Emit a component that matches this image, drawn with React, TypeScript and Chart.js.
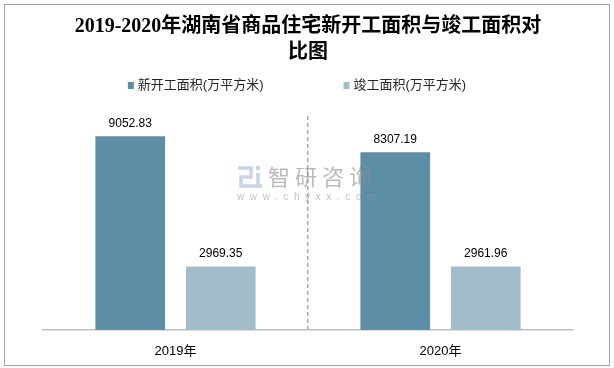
import React, { useEffect, useRef } from "react";
import { Chart, registerables } from "chart.js";

Chart.register(...registerables);

const categories = ["2019年", "2020年"];
const seriesNames = ["新开工面积(万平方米)", "竣工面积(万平方米)"];
const newStartArea = [9052.83, 8307.19];
const completedArea = [2969.35, 2961.96];
const titleLines = ["2019-2020年湖南省商品住宅新开工面积与竣工面积对", "比图"];
const watermarkName = "智研咨询";
const watermarkUrl = "www.chyxx.com";

const DARK = "#5c8fa6";
const LIGHT = "#a1bdca";
const SANS = "'Liberation Sans', 'Noto Sans CJK SC', sans-serif";

const valueLabels = {
  id: "valueLabels",
  afterDatasetsDraw(chart: any) {
    const ctx = chart.ctx;
    ctx.save();
    ctx.font = `12px ${SANS}`;
    ctx.fillStyle = "#000";
    ctx.textAlign = "center";
    ctx.textBaseline = "middle";
    chart.data.datasets.forEach((ds: any, di: number) => {
      const meta = chart.getDatasetMeta(di);
      meta.data.forEach((el: any, i: number) => {
        ctx.fillText(Number(ds.data[i]).toFixed(2), el.x, el.y - 13);
      });
    });
    ctx.restore();
  },
};

const watermark = {
  id: "watermark",
  afterDatasetsDraw(chart: any) {
    const ctx = chart.ctx;
    ctx.save();
    // logo
    ctx.strokeStyle = "rgba(175,195,220,0.7)";
    ctx.lineWidth = 3.5;
    ctx.beginPath();
    ctx.moveTo(238, 168);
    ctx.lineTo(251, 168);
    ctx.lineTo(251, 177);
    ctx.lineTo(241, 177);
    ctx.lineTo(241, 186);
    ctx.lineTo(262, 186);
    ctx.moveTo(258, 173);
    ctx.lineTo(258, 186);
    ctx.stroke();
    ctx.fillStyle = "rgba(175,195,220,0.7)";
    ctx.fillRect(256, 166, 4, 4);
    ctx.fillStyle = "rgba(140,140,140,0.6)";
    ctx.font = `22px 'Noto Sans CJK SC', sans-serif`;
    ctx.textAlign = "left";
    ctx.textBaseline = "middle";
    (ctx as any).letterSpacing = "5px";
    ctx.fillText(watermarkName, 268, 177);
    ctx.font = `10px ${SANS}`;
    (ctx as any).letterSpacing = "5.6px";
    ctx.fillStyle = "rgba(150,150,150,0.6)";
    ctx.fillText(watermarkUrl, 237, 197);
    ctx.restore();
  },
};

const customLegend = {
  id: "customLegend",
  afterDraw(chart: any) {
    const ctx = chart.ctx;
    ctx.save();
    ctx.font = `13px ${SANS}`;
    ctx.textBaseline = "middle";
    ctx.textAlign = "left";
    const box = 6;
    const gapBoxText = 4;
    const itemGap = 80;
    const items = chart.data.datasets.map((ds: any) => ({
      text: ds.label,
      color: ds.backgroundColor,
      w: box + gapBoxText + ctx.measureText(ds.label).width,
    }));
    const total = items.reduce((s: number, it: any) => s + it.w, 0) + itemGap * (items.length - 1);
    let x = 297 - total / 2;
    const y = 85;
    items.forEach((it: any) => {
      ctx.fillStyle = it.color;
      ctx.fillRect(x, y - box / 2, box, box + 1);
      ctx.fillStyle = "#262626";
      ctx.fillText(it.text, x + box + gapBoxText, y);
      x += it.w + itemGap;
    });
    ctx.restore();
  },
};

export default function App() {
  const ref = useRef<HTMLCanvasElement | null>(null);
  useEffect(() => {
    if (!ref.current) return;
    const chart = new Chart(ref.current, {
      type: "bar",
      data: {
        labels: categories,
        datasets: [
          { label: seriesNames[0], data: newStartArea, backgroundColor: DARK },
          { label: seriesNames[1], data: completedArea, backgroundColor: LIGHT },
        ],
      },
      options: {
        responsive: false,
        animation: false,
        events: [],
        layout: { padding: { left: 43, right: 41, top: 0, bottom: 0 } },
        datasets: {
          bar: { categoryPercentage: 0.683, barPercentage: 0.77 },
        } as any,
        plugins: {
          legend: { display: false },
          tooltip: { enabled: false },
          title: {
            display: true,
            text: titleLines,
            color: "#000",
            font: { family: "'Liberation Serif', 'Noto Sans CJK SC', serif", size: 20, weight: "bold", lineHeight: 1.3 },
            padding: { top: 14, bottom: 50 },
          },
        },
        scales: {
          x: {
            offset: true,
            afterFit: (s: any) => {
              s.height = 38;
            },
            grid: {
              offset: true,
              drawTicks: false,
              lineWidth: 1.5,
              color: (c: any) => (c.index === 1 ? "#a9a9a9" : "rgba(0,0,0,0)"),
            },
            border: { display: true, color: "#bfbfbf", width: 1.5, dash: [4, 3] },
            ticks: {
              color: "#000",
              font: { family: SANS, size: 13 },
              padding: 14,
            },
          },
          y: {
            display: false,
            min: 0,
            max: 10000,
          },
        },
      },
      plugins: [valueLabels, watermark, customLegend],
    });
    return () => chart.destroy();
  }, []);

  return (
    <div style={{ position: "fixed", left: 0, top: 0, width: 614, height: 368, background: "#fff" }}>
      <div
        style={{
          position: "absolute",
          left: 4,
          top: 4,
          width: 604,
          height: 360,
          border: "1px solid #a6a6a6",
          pointerEvents: "none",
        }}
      />
      <canvas ref={ref} width={614} height={368} style={{ position: "absolute", left: 0, top: 0 }} />
    </div>
  );
}
